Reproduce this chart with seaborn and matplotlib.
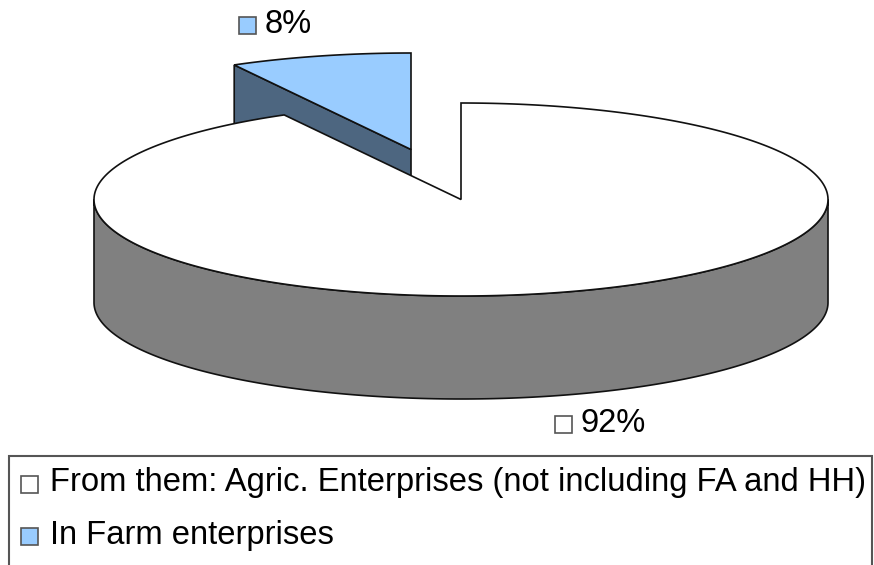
"""3D style pie of enterprise shares, drawn on a pixel sized axes."""

import matplotlib.pyplot as plt
import numpy as np
import seaborn as sns
from matplotlib.patches import Polygon, Rectangle

sns.set_theme(style='white')
plt.rcParams['font.family'] = ['Liberation Sans', 'DejaVu Sans']

categories = ['From them: Agric. Enterprises (not including FA and HH)', 'In Farm enterprises']
shares = [92, 8]
share_labels = ['92%', '8%']
top_colors = ['#ffffff', '#99ccff']
side_colors = ['#808080', '#4d6680']

CENTER = (461, 199.5)
RX, RY = 367, 96.5
DEPTH = 103
EXPLODE = (-50, -50)
EDGE = '#111111'
FONT_SIZE = 23.6


def rim(start, stop, center):
    """Return ellipse points between two clockwise angles measured from 12 o'clock."""
    theta = np.radians(np.linspace(start, stop, 400))
    return np.column_stack([center[0] + RX * np.sin(theta), center[1] - RY * np.cos(theta)])


def swatch(ax, x, y, color):
    ax.add_patch(Rectangle((x, y), 17, 17, facecolor=color, edgecolor='#555555', linewidth=1.2, zorder=6))


fig = plt.figure(figsize=(8.74, 5.65), dpi=100)
ax = fig.add_axes([0, 0, 1, 1])
ax.set_xlim(0, 874)
ax.set_ylim(565, 0)
ax.axis('off')

split = 360 * shares[0] / sum(shares)

# Exploded small slice goes first, the big slice covers the lower part of its wall
small_center = (CENTER[0] + EXPLODE[0], CENTER[1] + EXPLODE[1])
small_arc = rim(split, 360, small_center)
corner = small_arc[0]
wall = np.array([small_center, corner, corner + (0, DEPTH), (small_center[0], small_center[1] + DEPTH)])
ax.add_patch(Polygon(wall, closed=True, facecolor=side_colors[1], edgecolor=EDGE, linewidth=1.2, zorder=1))
ax.add_patch(Polygon(np.vstack([small_center, small_arc]), closed=True,
                     facecolor=top_colors[1], edgecolor=EDGE, linewidth=1.2, zorder=2))

# Side wall of the big slice, only the front half of the rim shows
front = rim(90, 270, CENTER)
side = np.vstack([front, (front + (0, DEPTH))[::-1]])
ax.add_patch(Polygon(side, closed=True, facecolor=side_colors[0], edgecolor=EDGE, linewidth=1.2, zorder=3))

big_arc = rim(0, split, CENTER)
ax.add_patch(Polygon(np.vstack([CENTER, big_arc]), closed=True,
                     facecolor=top_colors[0], edgecolor=EDGE, linewidth=1.2, zorder=4))

# Data labels
swatch(ax, 239, 17, top_colors[1])
ax.text(265, 33, share_labels[1], fontsize=FONT_SIZE, color='black', va='baseline', ha='left', zorder=6)
swatch(ax, 555, 416, top_colors[0])
ax.text(581, 432, share_labels[0], fontsize=FONT_SIZE, color='black', va='baseline', ha='left', zorder=6)

# Legend box runs off the bottom of the picture
ax.add_patch(Rectangle((9, 456), 863, 120, facecolor='white', edgecolor='#555555', linewidth=1.5, zorder=5))
for y, box_y, name, color in zip([491, 544], [476, 528], categories, top_colors):
    swatch(ax, 21, box_y, color)
    ax.text(50, y, name, fontsize=FONT_SIZE, color='black', va='baseline', ha='left', zorder=6)

fig.savefig('out.png', dpi=100, facecolor='white')
plt.close(fig)
